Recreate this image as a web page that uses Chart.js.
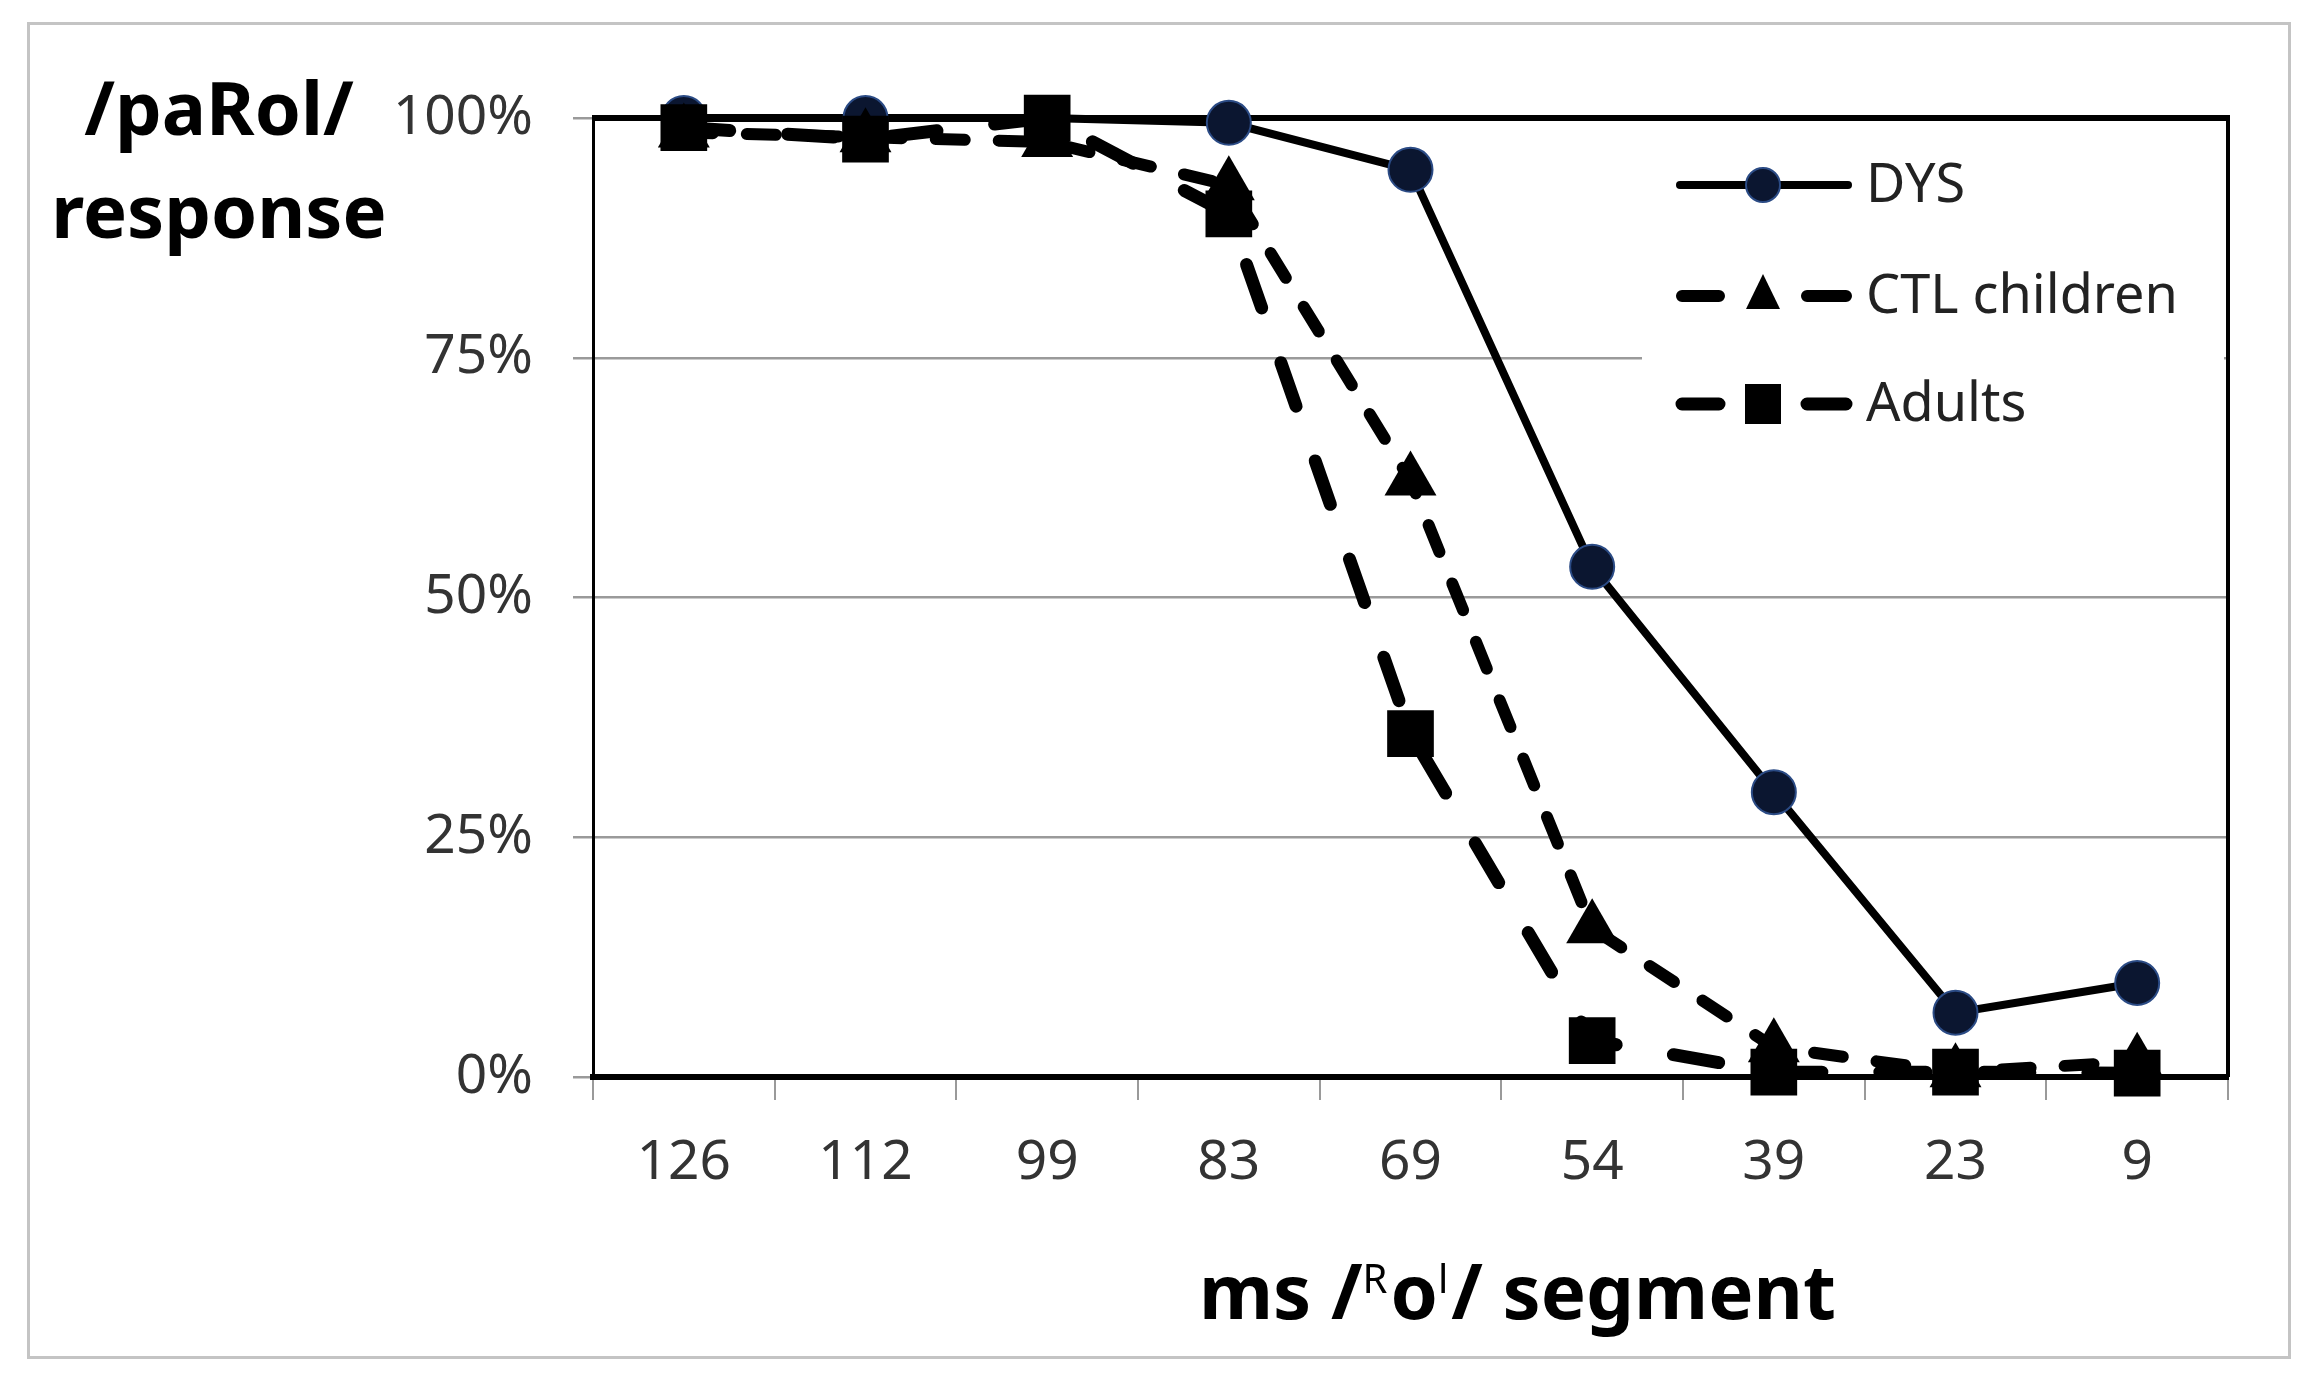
<!DOCTYPE html>
<html>
<head>
<meta charset="utf-8">
<script src="https://cdn.jsdelivr.net/npm/chart.js@4.4.0/dist/chart.umd.min.js"></script>
<style>
  html, body { margin: 0; padding: 0; background: #fff; }
  #wrap { position: relative; width: 2324px; height: 1384px; }
  #frame { position: absolute; left: 27px; top: 22px; width: 2258px; height: 1331px; border: 3px solid #c4c4c4; }
  canvas { position: absolute; left: 0; top: 0; }
</style>
</head>
<body>
<div id="wrap">
  <div id="frame"></div>
  <canvas id="chartResp" width="2324" height="1384"></canvas>
</div>
<script>
// duration of the /Rol/ segment in ms
const segments = ['126', '112', '99', '83', '69', '54', '39', '23', '9'];

// % of /paRol/ responses per group
const dys = [100, 100, 100, 99.5, 94.6, 53.2, 29.7, 6.7, 9.8];
const ctlChildren = [98.5, 98, 97.5, 93, 62.2, 15.5, 3.1, 0.5, 1.6];
const adults = [99, 97.8, 100, 90, 35.8, 3.8, 0.5, 0.5, 0.4];

const yMin = 0;
const yMax = 100;
const yStep = 25;

const FONT = '"Noto Sans", "DejaVu Sans", sans-serif';

// top + right border of the plot area
const plotFrame = {
  id: 'plotFrame',
  beforeDatasetsDraw(chart) {
    const { ctx, chartArea: a } = chart;
    ctx.save();
    ctx.strokeStyle = '#000';
    ctx.lineWidth = 6;
    ctx.beginPath();
    ctx.moveTo(a.left - 1, a.top);
    ctx.lineTo(a.right + 2, a.top);
    ctx.stroke();
    ctx.lineWidth = 4;
    ctx.beginPath();
    ctx.moveTo(a.right, a.top);
    ctx.lineTo(a.right, a.bottom);
    ctx.stroke();
    ctx.restore();
  }
};

function marker(ctx, style, x, y, ds) {
  ctx.save();
  ctx.fillStyle = ds.pointBackgroundColor;
  ctx.strokeStyle = ds.pointBorderColor;
  ctx.lineWidth = ds.pointBorderWidth;
  ctx.beginPath();
  if (style === 'circle') {
    ctx.arc(x, y, 17, 0, Math.PI * 2);
    ctx.fill();
    ctx.stroke();
  } else if (style === 'triangle') {
    ctx.moveTo(x, y - 22);
    ctx.lineTo(x + 17, y + 13);
    ctx.lineTo(x - 17, y + 13);
    ctx.closePath();
    ctx.fill();
  } else {
    ctx.rect(x - 18, y - 20, 36, 40);
    ctx.fill();
  }
  ctx.restore();
}

// legend box inside the plot, top right
const boxLegend = {
  id: 'boxLegend',
  afterDraw(chart) {
    const { ctx, chartArea: a } = chart;
    const left = a.right - 586;
    ctx.save();
    ctx.fillStyle = '#fff';
    ctx.fillRect(left, a.top + 10, 582, 335);
    const rows = [185, 296, 404];
    chart.data.datasets.forEach((ds, i) => {
      const y = rows[i];
      const x0 = left + 38, x1 = left + 206, xm = left + 121;
      ctx.strokeStyle = '#000';
      ctx.lineWidth = ds.borderWidth;
      ctx.lineCap = 'round';
      ctx.beginPath();
      if (ds.borderDash) {
        ctx.moveTo(x0 + 2, y); ctx.lineTo(xm - 44, y);
        ctx.moveTo(xm + 44, y); ctx.lineTo(x1 - 2, y);
      } else {
        ctx.moveTo(x0, y); ctx.lineTo(x1, y);
      }
      ctx.stroke();
      marker(ctx, ds.pointStyle, xm, y, ds);
      ctx.fillStyle = '#222';
      ctx.font = '54px ' + FONT;
      ctx.textAlign = 'left';
      ctx.textBaseline = 'middle';
      ctx.fillText(ds.label, left + 224, y + 2);
    });
    ctx.restore();
  }
};

// axis titles, drawn horizontally like the original
const axisTitles = {
  id: 'axisTitles',
  afterDraw(chart) {
    const { ctx } = chart;
    ctx.save();
    ctx.fillStyle = '#000';
    ctx.textBaseline = 'alphabetic';
    ctx.textAlign = 'center';
    ctx.font = 'bold 74px ' + FONT;
    ctx.fillText('/paRol/', 219, 135);
    ctx.fillText('response', 219, 238);

    // "ms /Rol/ segment" with raised R and l
    const parts = [
      ['ms /', 76, 0],
      ['R', 40, 26],
      ['o', 76, 0],
      ['l', 40, 26],
      ['/ segment', 76, 0]
    ];
    ctx.textAlign = 'left';
    let x = 1199;
    const base = 1319;
    parts.forEach(([txt, size, rise]) => {
      ctx.font = (rise ? '' : 'bold ') + size + 'px ' + FONT;
      ctx.fillText(txt, x, base - rise);
      x += ctx.measureText(txt).width + (rise ? 3 : 0);
    });
    ctx.restore();
  }
};

const ctx1 = document.getElementById('chartResp');

const data = {
  labels: segments,
  datasets: [
    {
      label: 'DYS',
      data: dys,
      order: 2,
      borderColor: '#000',
      borderWidth: 8,
      pointStyle: 'circle',
      pointRadius: 22,
      pointHoverRadius: 22,
      pointBackgroundColor: '#0b1630',
      pointBorderColor: '#2b4b85',
      pointBorderWidth: 2,
      tension: 0,
      clip: false
    },
    {
      label: 'CTL children',
      data: ctlChildren,
      order: 1,
      borderColor: '#000',
      borderWidth: 12,
      borderDash: [29, 34],
      borderCapStyle: 'round',
      pointStyle: 'triangle',
      pointRadius: 30,
      pointHoverRadius: 30,
      pointBackgroundColor: '#000',
      pointBorderColor: '#000',
      pointBorderWidth: 0,
      tension: 0,
      clip: false
    },
    {
      label: 'Adults',
      data: adults,
      order: 0,
      borderColor: '#000',
      borderWidth: 13,
      borderDash: [46, 58],
      borderCapStyle: 'round',
      pointStyle: 'rect',
      pointRadius: 33,
      pointHoverRadius: 33,
      pointBackgroundColor: '#000',
      pointBorderColor: '#000',
      pointBorderWidth: 0,
      tension: 0,
      clip: false
    }
  ]
};

const config1 = {
  type: 'line',
  data: data,
  plugins: [plotFrame, boxLegend, axisTitles],
  options: {
    responsive: false,
    animation: false,
    devicePixelRatio: 1,
    layout: { padding: { left: 393, right: 96, top: 118, bottom: 157 } },
    plugins: {
      legend: { display: false },
      tooltip: { enabled: false }
    },
    scales: {
      x: {
        offset: true,
        afterFit(s) { s.height = 150; },
        grid: { offset: true, drawOnChartArea: false, drawTicks: true, tickLength: 23, color: '#9a9a9a', lineWidth: 2 },
        border: { color: '#000', width: 6 },
        ticks: { color: '#333', font: { family: FONT, size: 55 }, padding: 30, maxRotation: 0 }
      },
      y: {
        min: yMin,
        max: yMax,
        afterFit(s) { s.width = 200; },
        grid: { color: '#9a9a9a', lineWidth: 2.5, tickLength: 20 },
        border: { color: '#000', width: 3 },
        ticks: {
          stepSize: yStep,
          color: '#333',
          font: { family: FONT, size: 55 },
          padding: 40,
          callback: v => v + '%'
        }
      }
    }
  }
};

new Chart(ctx1, config1);
</script>
</body>
</html>
